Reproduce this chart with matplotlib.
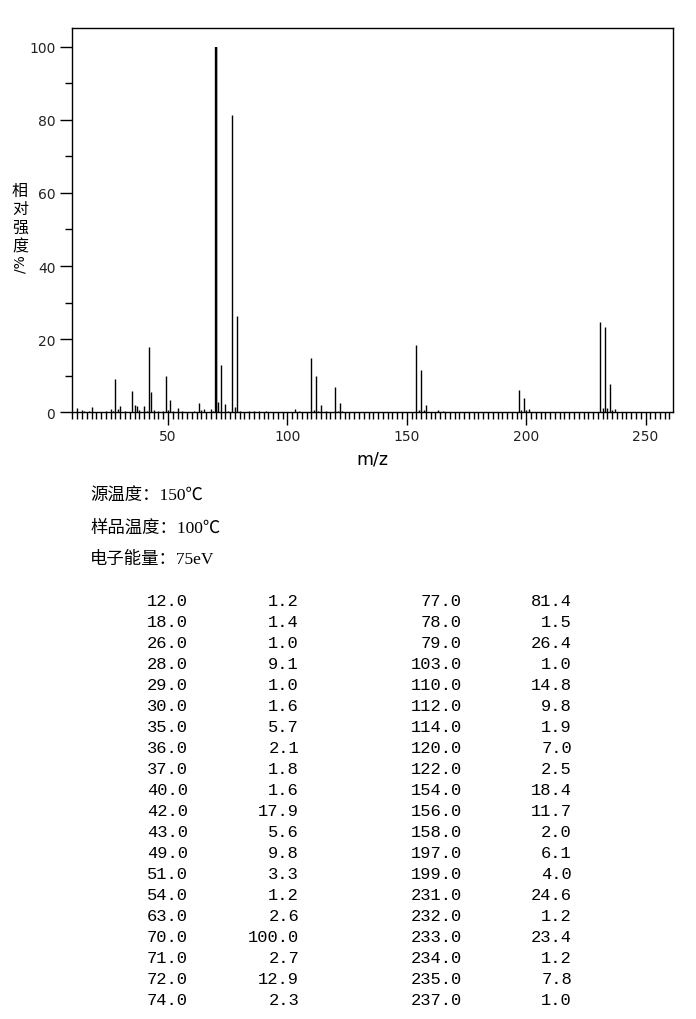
import numpy as np
import matplotlib
matplotlib.use('Agg')
import matplotlib.pyplot as plt
from matplotlib.ticker import MultipleLocator

W, H = 696, 1020

# peaks listed in the table
mz = [12, 18, 26, 28, 29, 30, 35, 36, 37, 40, 42, 43, 49, 51, 54, 63, 70, 71, 72, 74,
      77, 78, 79, 103, 110, 112, 114, 120, 122, 154, 156, 158, 197, 199, 231, 232, 233, 234, 235, 237]
inten = [1.2, 1.4, 1.0, 9.1, 1.0, 1.6, 5.7, 2.1, 1.8, 1.6, 17.9, 5.6, 9.8, 3.3, 1.2, 2.6, 100.0, 2.7, 12.9, 2.3,
         81.4, 1.5, 26.4, 1.0, 14.8, 9.8, 1.9, 7.0, 2.5, 18.4, 11.7, 2.0, 6.1, 4.0, 24.6, 1.2, 23.4, 1.2, 7.8, 1.0]

# small peaks drawn in the spectrum but not listed
mz_small = [14, 15, 17, 24, 27, 32, 38, 41, 44, 46, 48, 50, 52, 56, 61, 64, 65, 68, 69, 75,
            80, 84, 86, 88, 91, 105, 111, 113, 116, 121, 123, 155, 157, 163, 165, 198, 200, 201, 236]
inten_small = [0.5, 0.4, 0.4, 0.4, 0.3, 0.3, 0.5, 0.4, 0.6, 0.3, 0.4, 0.6, 0.4, 0.4, 0.3, 0.5, 0.8, 0.8, 0.4, 0.4,
               0.4, 0.3, 0.3, 0.3, 0.3, 0.4, 0.5, 0.4, 0.3, 0.4, 0.4, 0.5, 0.5, 0.5, 0.4, 0.5, 0.5, 0.8, 0.6]

ylabel_chars = ['相', '对', '强', '度']
info_lines = ['源温度：150℃', '样品温度：100℃', '电子能量：75eV']


def fx(x):
    return x / W


def fy(y):
    return 1 - y / H


fig = plt.figure(figsize=(W / 100, H / 100), dpi=100)
ax = fig.add_axes([fx(72), fy(413.3), fx(673.3) - fx(72), fy(29.3) - fy(413.3)])

ax.vlines(mz_small, 0, inten_small, color='black', lw=1.0)
ax.vlines(mz, 0, inten, color='black', lw=1.0)
ax.vlines([70], 0, [100.0], color='black', lw=1.7)

ax.set_xlim(9.8, 261.6)
ax.set_ylim(0, 105)
ax.xaxis.set_major_locator(MultipleLocator(50))
ax.xaxis.set_minor_locator(MultipleLocator(2))
ax.yaxis.set_major_locator(MultipleLocator(20))
ax.yaxis.set_minor_locator(MultipleLocator(10))
ax.tick_params(which='major', length=9, width=1, labelsize=10, pad=3, labelcolor='#222222')
ax.tick_params(which='minor', length=5, width=1)
for s in ax.spines.values():
    s.set_linewidth(1)

ax.set_xlabel('m/z', fontsize=12.5, labelpad=5)

# vertical y label, one character per line
for i, ch in enumerate(ylabel_chars):
    fig.text(fx(20), fy(191 + i * 18.8), ch, family=['Noto Sans CJK SC'], fontsize=11.5,
             ha='center', va='center')
fig.text(fx(20), fy(264), '/%', fontsize=10, rotation=90, ha='center', va='center')

for i, line in enumerate(info_lines):
    fig.text(fx(90), fy(497 + i * 31.5), line, family=['Liberation Serif', 'Noto Sans CJK SC'],
             fontsize=12.5, ha='left', va='center')

n = len(mz) // 2
col_right = [188, 299, 462, 572]
for i in range(n):
    y = fy(602 + i * 20.95)
    vals = [mz[i], inten[i], mz[i + n], inten[i + n]]
    for c, v in enumerate(vals):
        fig.text(fx(col_right[c]), y, '%.1f' % v, family='Liberation Mono', fontsize=12.3,
                 ha='right', va='center')

fig.savefig('out.png', dpi=100)
